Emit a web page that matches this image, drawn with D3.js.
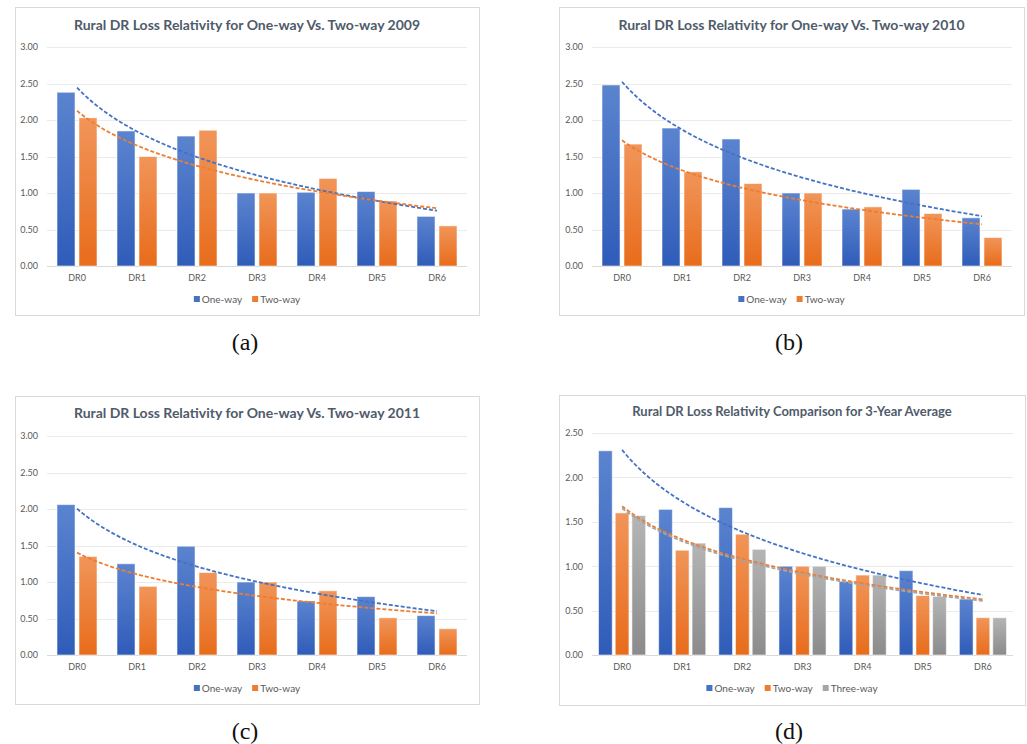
<!DOCTYPE html>
<html>
<head>
<meta charset="utf-8">
<script src="https://cdn.jsdelivr.net/npm/d3@7"></script>
<style>
  body { margin: 0; background: #fff; }
  text { font-family: Lato, "Open Sans", sans-serif; }
</style>
</head>
<body>
<svg id="chart" width="1027" height="744"></svg>
<script>
// values
const categories = ["DR0", "DR1", "DR2", "DR3", "DR4", "DR5", "DR6"];
const seriesNames = ["One-way", "Two-way", "Three-way"];

const oneWay2009 = [2.38, 1.85, 1.78, 1.00, 1.01, 1.02, 0.68];
const twoWay2009 = [2.03, 1.50, 1.86, 1.00, 1.20, 0.89, 0.55];

const oneWay2010 = [2.48, 1.89, 1.74, 1.00, 0.78, 1.05, 0.66];
const twoWay2010 = [1.67, 1.29, 1.13, 1.00, 0.81, 0.72, 0.39];

const oneWay2011 = [2.06, 1.25, 1.49, 1.00, 0.74, 0.80, 0.54];
const twoWay2011 = [1.35, 0.94, 1.13, 1.00, 0.88, 0.51, 0.36];

const oneWayAvg = [2.30, 1.64, 1.66, 1.00, 0.83, 0.95, 0.63];
const twoWayAvg = [1.60, 1.18, 1.36, 1.00, 0.90, 0.67, 0.42];
const threeWayAvg = [1.57, 1.26, 1.19, 1.00, 0.90, 0.66, 0.42];

const yTicks30 = [0, 0.5, 1, 1.5, 2, 2.5, 3];
const yTicks25 = [0, 0.5, 1, 1.5, 2, 2.5];

const titles = [
  "Rural DR Loss Relativity for One-way Vs. Two-way 2009",
  "Rural DR Loss Relativity for One-way Vs. Two-way 2010",
  "Rural DR Loss Relativity for One-way Vs. Two-way 2011",
  "Rural DR Loss Relativity Comparison for 3-Year Average"
];
const captions = ["(a)", "(b)", "(c)", "(d)"];

const colors = ["#4472c4", "#ed7d31", "#a5a5a5"];
const gradTop = ["#5b84cf", "#f19559", "#b5b5b5"];
const gradBottom = ["#2f5cb9", "#e86c1b", "#8b8b8b"];

const svg = d3.select("#chart");
svg.append("rect").attr("width", 1027).attr("height", 744).attr("fill", "#fff");

// gradients for the bars
const defs = svg.append("defs");
colors.forEach((c, i) => {
  const g = defs.append("linearGradient")
    .attr("id", "grad" + i)
    .attr("x1", 0).attr("y1", 0).attr("x2", 0).attr("y2", 1);
  g.append("stop").attr("offset", "0%").attr("stop-color", gradTop[i]);
  g.append("stop").attr("offset", "100%").attr("stop-color", gradBottom[i]);
});

// Excel style logarithmic trendline: y = a + b ln(x), x = 1..n
function logFit(values) {
  const xs = values.map((v, i) => Math.log(i + 1));
  const mx = d3.mean(xs), my = d3.mean(values);
  let sxy = 0, sxx = 0;
  xs.forEach((x, i) => { sxy += (x - mx) * (values[i] - my); sxx += (x - mx) * (x - mx); });
  const b = sxy / sxx;
  const a = my - b * mx;
  return t => a + b * Math.log(t);
}

const panels = [
  { series: [oneWay2009, twoWay2009], ticks: yTicks30, title: titles[0], cap: captions[0],
    frame: [15, 7, 464, 308], px: [47, 467], py: [47, 266], titleY: 30, titleSize: 14, outer: 1 / 3, capXY: [245, 350] },
  { series: [oneWay2010, twoWay2010], ticks: yTicks30, title: titles[1], cap: captions[1],
    frame: [559, 7, 465, 308], px: [592, 1012], py: [47, 266], titleY: 30, titleSize: 14, outer: 1 / 3, capXY: [789, 350] },
  { series: [oneWay2011, twoWay2011], ticks: yTicks30, title: titles[2], cap: captions[2],
    frame: [15, 396, 464, 308], px: [47, 467], py: [436, 655], titleY: 418, titleSize: 14, outer: 1 / 3, capXY: [245, 739] },
  { series: [oneWayAvg, twoWayAvg, threeWayAvg], ticks: yTicks25, title: titles[3], cap: captions[3],
    frame: [559, 395, 466, 310], px: [592, 1013], py: [433, 655], titleY: 416, titleSize: 13, outer: 0.217, capXY: [789, 739] }
];

panels.forEach(p => {
  const [fx, fy, fw, fh] = p.frame;
  const g = svg.append("g");

  g.append("rect")
    .attr("x", fx + 0.5).attr("y", fy + 0.5)
    .attr("width", fw).attr("height", fh)
    .attr("fill", "#fff").attr("stroke", "#d9d9d9");

  const x = d3.scaleBand().domain(categories).range(p.px)
    .paddingInner(p.outer).paddingOuter(p.outer / 2);
  const names = seriesNames.slice(0, p.series.length);
  const xs = d3.scaleBand().domain(names).range([0, x.bandwidth()]).paddingInner(0.18);
  const y = d3.scaleLinear().domain([0, d3.max(p.ticks)]).range([p.py[1], p.py[0]]);

  // gridlines
  g.selectAll(".grid").data(p.ticks).join("line")
    .attr("x1", p.px[0]).attr("x2", p.px[1])
    .attr("y1", d => Math.round(y(d)) + 0.5).attr("y2", d => Math.round(y(d)) + 0.5)
    .attr("stroke", d => d === 0 ? "#d9d9d9" : "#ebebeb");

  // y axis labels
  const ya = g.append("g").attr("transform", `translate(${p.px[0]},0)`)
    .call(d3.axisLeft(y).tickValues(p.ticks).tickFormat(d3.format(".2f")).tickSize(0).tickPadding(9));
  ya.select(".domain").remove();
  ya.selectAll("text").attr("fill", "#595959").style("font-size", "9px").style("font-family", "Lato, sans-serif");

  // x axis labels
  const xa = g.append("g").attr("transform", `translate(0,${p.py[1]})`)
    .call(d3.axisBottom(x).tickSize(0).tickPadding(9));
  xa.select(".domain").remove();
  xa.selectAll("text").attr("fill", "#595959").style("font-size", "9px").style("font-family", "Lato, sans-serif");

  // bars
  p.series.forEach((vals, si) => {
    g.append("g").selectAll("rect").data(vals).join("rect")
      .attr("x", (d, i) => x(categories[i]) + xs(names[si]))
      .attr("y", d => y(d))
      .attr("width", xs.bandwidth())
      .attr("height", d => y(0) - y(d))
      .attr("fill", `url(#grad${si})`)
      .attr("stroke", "rgba(255,255,255,0.55)")
      .attr("stroke-width", 1);
  });

  // trendlines
  const tx = d3.scaleLinear().domain([1, categories.length])
    .range([x(categories[0]) + x.bandwidth() / 2, x(categories[categories.length - 1]) + x.bandwidth() / 2]);
  const samples = d3.range(1, categories.length + 0.001, 0.05);
  p.series.forEach((vals, si) => {
    const f = logFit(vals);
    g.append("path")
      .datum(samples)
      .attr("d", d3.line().x(t => tx(t)).y(t => y(f(t))))
      .attr("fill", "none")
      .attr("stroke", colors[si])
      .attr("stroke-width", 1.8)
      .attr("stroke-dasharray", "4,2");
  });

  // title
  g.append("text")
    .attr("x", fx + fw / 2).attr("y", p.titleY)
    .attr("text-anchor", "middle")
    .attr("fill", "#4f5b6b")
    .style("font-size", p.titleSize + "px")
    .style("font-weight", "bold")
    .text(p.title);

  // legend, centred in the frame
  const leg = g.append("g");
  let lx = 0;
  names.forEach((n, si) => {
    const item = leg.append("g").attr("transform", `translate(${lx},0)`);
    item.append("rect").attr("x", 0).attr("y", -3).attr("width", 6).attr("height", 6).attr("fill", colors[si]);
    const t = item.append("text").attr("x", 8).attr("y", 0).attr("dy", "0.35em")
      .attr("fill", "#595959").style("font-size", "10px").text(n);
    lx += 8 + t.node().getComputedTextLength() + 10;
  });
  const legW = lx - 10;
  const legY = p.py[1] + 33;
  leg.attr("transform", `translate(${fx + fw / 2 - legW / 2},${legY})`);

  // caption under the panel
  svg.append("text")
    .attr("x", p.capXY[0]).attr("y", p.capXY[1])
    .attr("text-anchor", "middle")
    .attr("fill", "#111")
    .style("font-family", "'Liberation Serif', 'DejaVu Serif', serif")
    .style("font-size", "24px")
    .text(p.cap);
});
</script>
</body>
</html>
